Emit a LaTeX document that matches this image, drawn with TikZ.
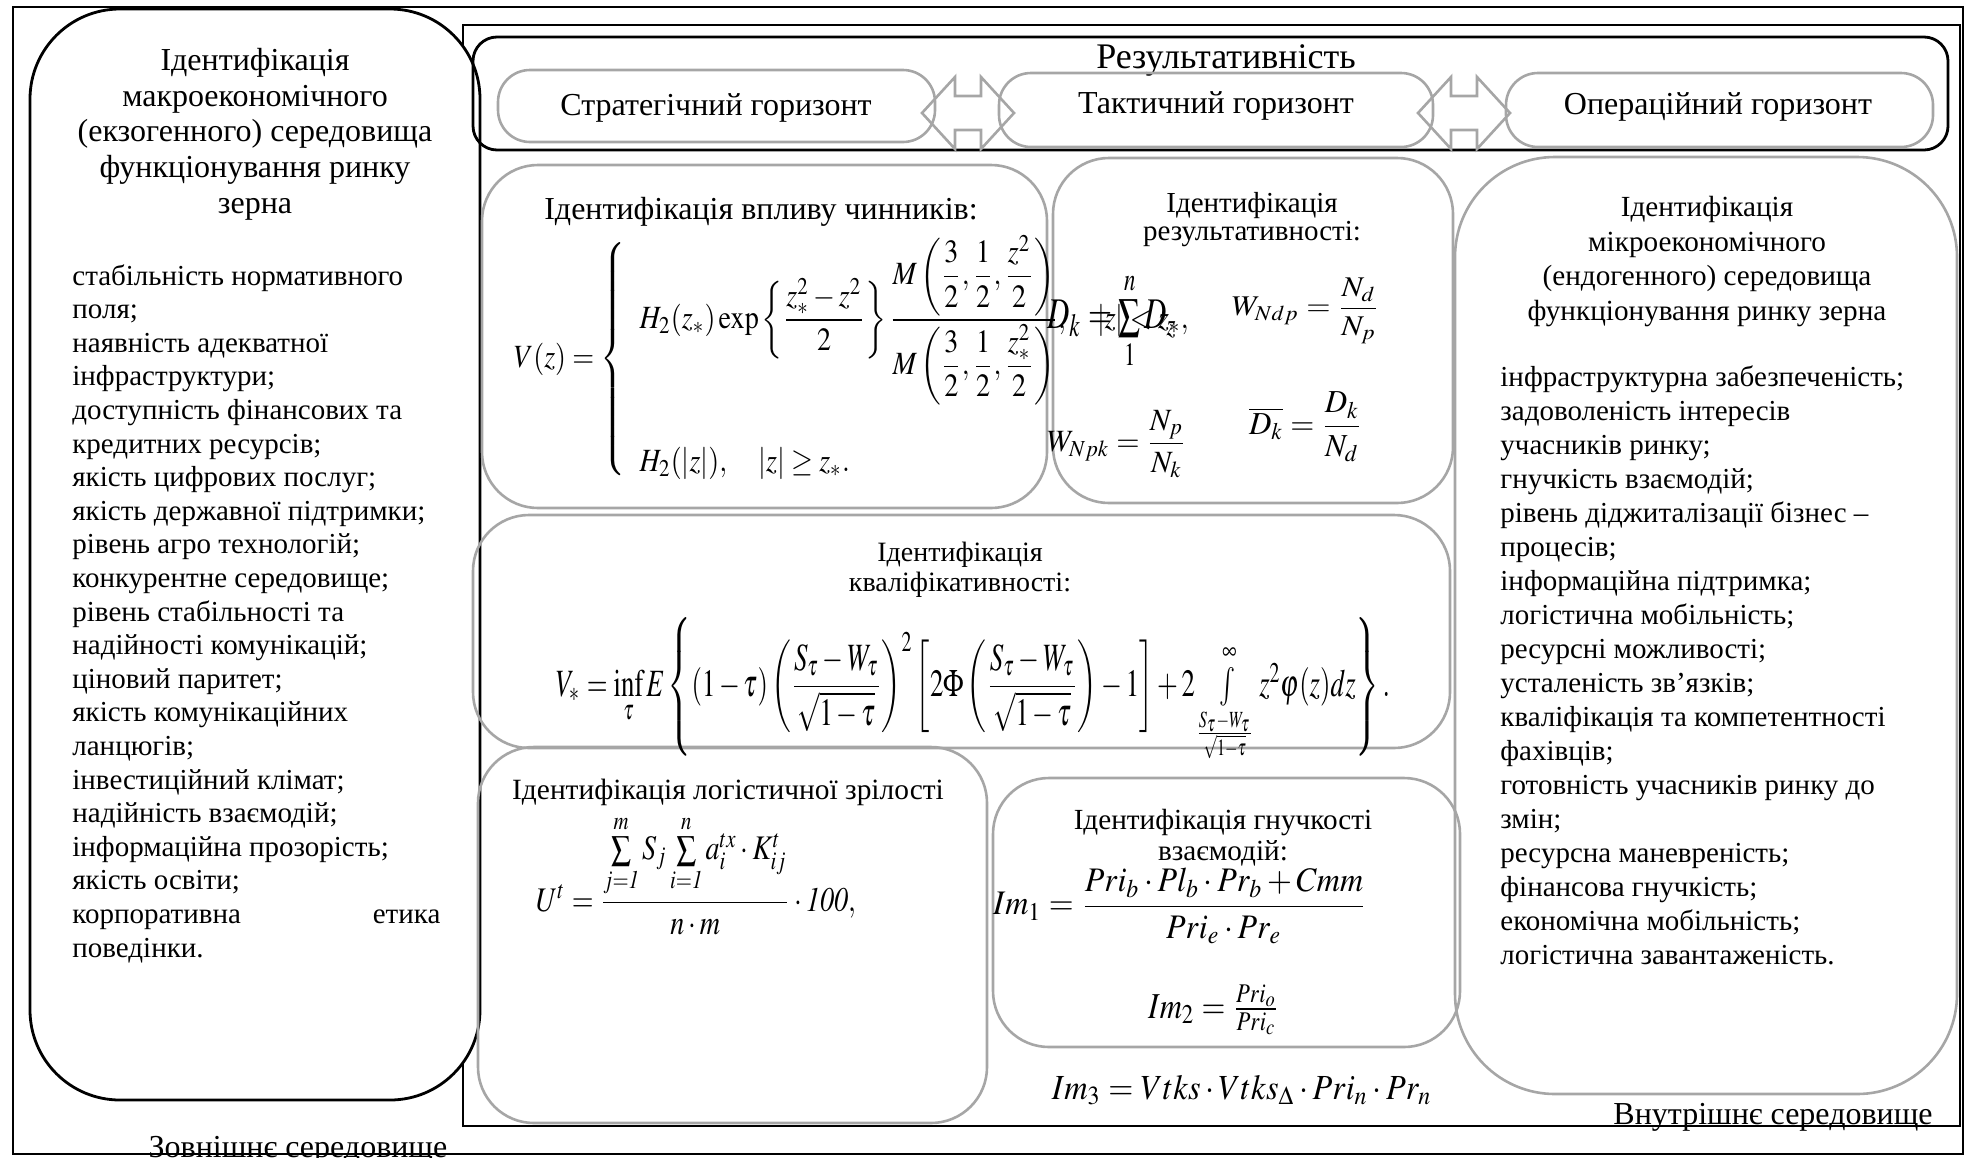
\documentclass[tikz,border=0pt]{standalone}
\usepackage{amsmath}
\usepackage{mathptmx}
\usepackage{fontspec}
\setmainfont{Liberation Serif}
\usepackage{graphicx}
\definecolor{boxgrey}{RGB}{166,166,166}

\begin{document}
\begin{tikzpicture}[x=0.5pt,y=-0.5pt,
  frame/.style={line width=1.2pt},
  blackbox/.style={draw, line width=1.4pt},
  greybox/.style={draw=boxgrey, line width=1.3pt, rounded corners=28pt},
  horizon/.style={draw=boxgrey, line width=1.3pt, rounded corners=16pt},
  bigtitle/.style={font=\fontsize{16}{17.8}\selectfont, align=center, inner sep=0pt},
  smalltitle/.style={font=\fontsize{14.5}{15.5}\selectfont, align=center, inner sep=0pt},
  factors/.style={font=\fontsize{14.5}{16.8}\selectfont, align=left, inner sep=0pt, anchor=north west},
  formula/.style={inner sep=0pt}]
\useasboundingbox (0,0) rectangle (1973,1157);
% environments
\draw[frame] (13,7) rectangle (1963,1154);
\draw[frame] (463,25) rectangle (1960,1126);
\node[bigtitle, anchor=base] (outer) at (298,1157) {Зовнішнє середовище};
\node[bigtitle, anchor=base east] (inner) at (1933,1124) {Внутрішнє середовище};
% exogenous box
\draw[blackbox, fill=white, rounded corners=45pt] (30,9) rectangle (480,1100);
\node[bigtitle, anchor=north] (macro) at (255,48) {Ідентифікація\\макроекономічного\\(екзогенного) середовища\\функціонування ринку\\зерна};
\node[factors] (macrolist) at (72,264) {стабільність нормативного\\поля;\\наявність адекватної\\інфраструктури;\\доступність фінансових та\\кредитних ресурсів;\\якість цифрових послуг;\\якість державної підтримки;\\рівень агро технологій;\\конкурентне середовище;\\рівень стабільності та\\надійності комунікацій;\\ціновий паритет;\\якість комунікаційних\\ланцюгів;\\інвестиційний клімат;\\надійність взаємодій;\\інформаційна прозорість;\\якість освіти;\\\makebox[184pt][s]{корпоративна\hfill етика}\\поведінки.};
% horizons
\draw[blackbox, rounded corners=12pt] (473,37) rectangle (1948,150);
\node[bigtitle, font=\fontsize{18}{20}\selectfont, anchor=base] (result) at (1226,68) {Результативність};
\draw[horizon] (498,70) rectangle (935,142);
\draw[horizon] (999,73) rectangle (1433,147);
\draw[horizon] (1506,73) rectangle (1933,147);
\node[bigtitle, anchor=base] (strat) at (716,115) {Стратегічний горизонт};
\node[bigtitle, anchor=base] (tact) at (1216,113) {Тактичний горизонт};
\node[bigtitle, anchor=base] (oper) at (1718,114) {Операційний горизонт};
\foreach \cx in {968,1464}
  \draw[boxgrey, line width=1.3pt] (\cx-46,113) -- ++(33,-36) -- ++(0,19) -- ++(26,0) -- ++(0,-19) -- ++(33,36)
    -- ++(-33,36) -- ++(0,-19) -- ++(-26,0) -- ++(0,19) -- cycle;
% identification boxes
\draw[greybox] (482,165) rectangle (1047,508);
\draw[greybox] (1053,158) rectangle (1453,503);
\draw[greybox, rounded corners=50pt] (1455,157) rectangle (1957,1094);
\draw[greybox] (473,515) rectangle (1450,748);
\draw[greybox] (478,747) rectangle (987,1123);
\draw[greybox] (993,778) rectangle (1460,1047);
% influence of factors
\node[bigtitle, anchor=base] (factor) at (761,219) {Ідентифікація впливу чинників:};
\node[formula] (vz) at (860,359) {\resizebox*{346pt}{124pt}{$V(z)=\left\{\begin{array}{l}
  H_2(z_*)\exp\left\{\dfrac{z_*^2-z^2}{2}\right\}\dfrac{M\left(\dfrac{3}{2},\dfrac{1}{2},\dfrac{z^2}{2}\right)}{M\left(\dfrac{3}{2},\dfrac{1}{2},\dfrac{z_*^2}{2}\right)},\quad |z|<z_*,\\[7ex]
  H_2(|z|),\quad |z|\geq z_*.
  \end{array}\right.$}};
% effectiveness
\node[smalltitle, font=\fontsize{14.5}{14}\selectfont, anchor=north] (effect) at (1252,192) {Ідентифікація\\результативності:};
\node[formula] (dk) at (1112,321) {\resizebox*{65pt}{49pt}{$D_k=\sum\limits_{1}^{n}D_z$}};
\node[formula] (wndp) at (1306,311) {\resizebox*{74pt}{33pt}{$W_{Ndp}=\dfrac{N_d}{N_p}$}};
\node[formula] (wnpk) at (1117,444) {\resizebox*{70pt}{34pt}{$W_{Npk}=\dfrac{N_p}{N_k}$}};
\node[formula] (dkbar) at (1306,427) {\resizebox*{57pt}{35pt}{$\overline{D_k}=\dfrac{D_k}{N_d}$}};
% endogenous box
\node[smalltitle, font=\fontsize{14.6}{17.3}\selectfont, anchor=north] (micro) at (1707,196) {Ідентифікація\\мікроекономічного\\(ендогенного) середовища\\функціонування ринку зерна};
\node[factors, font=\fontsize{14.5}{17}\selectfont] (microlist) at (1500,365) {інфраструктурна забезпеченість;\\задоволеність інтересів\\учасників ринку;\\гнучкість взаємодій;\\рівень діджиталізації бізнес –\\процесів;\\інформаційна підтримка;\\логістична мобільність;\\ресурсні можливості;\\усталеність зв’язків;\\кваліфікація та компетентності\\фахівців;\\готовність учасників ринку до\\змін;\\ресурсна маневреність;\\фінансова гнучкість;\\економічна мобільність;\\логістична завантаженість.};
% qualitativeness
\node[smalltitle, font=\fontsize{14}{15}\selectfont, anchor=north] (quality) at (960,542) {Ідентифікація\\кваліфікативності:};
\node[formula] (vstar) at (973,690) {\resizebox*{417pt}{73pt}{$V_*=\inf\limits_{\tau}E\left\{(1-\tau)\left(\dfrac{S_\tau-W_\tau}{\sqrt{1-\tau}}\right)^2\left[2\Phi\left(\dfrac{S_\tau-W_\tau}{\sqrt{1-\tau}}\right)-1\right]+2\int\limits_{\frac{S_\tau-W_\tau}{\sqrt{1-\tau}}}^{\infty}z^2\varphi(z)dz\right\}.$}};
% logistic maturity
\node[smalltitle, font=\fontsize{14.7}{16}\selectfont, anchor=base] (logist) at (728,799) {Ідентифікація логістичної зрілості};
\node[formula] (ut) at (696,875) {\resizebox*{160pt}{60pt}{$U^t=\dfrac{\sum\limits_{j=\mathit{1}}^{m}S_j\sum\limits_{i=\mathit{1}}^{n}a_i^{tx}\cdot K_{ij}^t}{n\cdot m}\cdot\mathit{100},$}};
% flexibility
\node[smalltitle, font=\fontsize{14.6}{15.5}\selectfont, anchor=north] (flex) at (1223,809) {Ідентифікація гнучкості\\взаємодій:};
\node[formula] (im1) at (1180,906) {\resizebox*{187pt}{38pt}{$Im_1=\dfrac{Pri_b\cdot Pl_b\cdot Pr_b+Cmm}{Pri_e\cdot Pr_e}$}};
\node[formula] (im2) at (1214,1010) {\resizebox*{66pt}{25pt}{$Im_2=\frac{Pri_o}{Pri_c}$}};
\node[formula] (im3) at (1242,1090) {\resizebox*{190pt}{15pt}{$Im_3=Vtks\cdot Vtks_\Delta\cdot Pri_n\cdot Pr_n$}};
\end{tikzpicture}
\end{document}
